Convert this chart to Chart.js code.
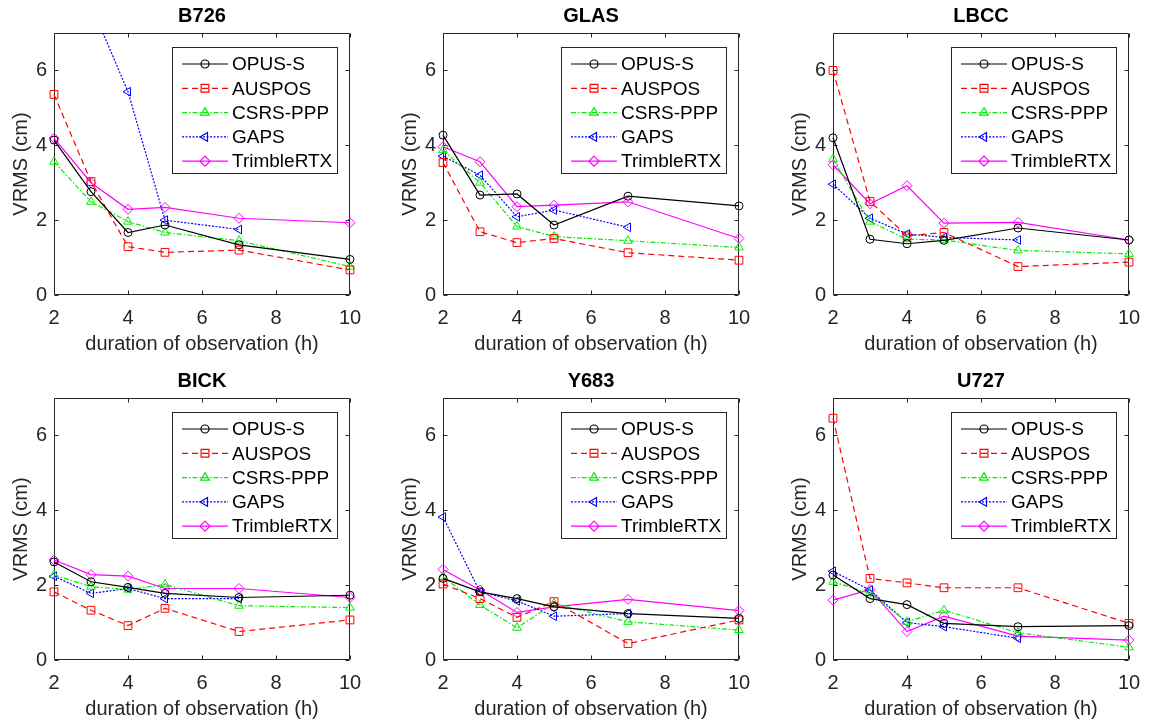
<!DOCTYPE html>
<html>
<head>
<meta charset="utf-8">
<script src="https://cdn.jsdelivr.net/npm/chart.js"></script>
<style>
  body { margin: 0; background: #fff; }
  #wrap { position: relative; width: 1150px; height: 725px; }
  canvas { position: absolute; }
</style>
</head>
<body>
<div id="wrap"></div>
<script>
const hours = [2, 3, 4, 5, 7, 10];
const services = ['OPUS-S', 'AUSPOS', 'CSRS-PPP', 'GAPS', 'TrimbleRTX'];
const stations = ['B726', 'GLAS', 'LBCC', 'BICK', 'Y683', 'U727'];
const xTicks = [2, 4, 6, 8, 10];
const yTicks = [0, 2, 4, 6];

// VRMS (cm): one row per service, one column per duration; null = not solved
const vrmsB726 = [
  [4.14, 2.76, 1.67, 1.87, 1.34, 0.95],
  [5.36, 3.03, 1.29, 1.14, 1.20, 0.67],
  [3.56, 2.49, 1.96, 1.67, 1.45, 0.76],
  [9.80, 7.75, 5.43, 2.00, 1.75, null],
  [4.19, 3.00, 2.29, 2.34, 2.05, 1.93]
];
const vrmsGLAS = [
  [4.27, 2.67, 2.70, 1.87, 2.64, 2.38],
  [3.54, 1.69, 1.40, 1.51, 1.13, 0.93],
  [3.87, 3.00, 1.83, 1.56, 1.45, 1.27],
  [3.71, 3.20, 2.09, 2.27, 1.81, null],
  [3.96, 3.56, 2.36, 2.40, 2.49, 1.51]
];
const vrmsLBCC = [
  [4.20, 1.49, 1.37, 1.46, 1.79, 1.47],
  [6.00, 2.50, 1.58, 1.67, 0.76, 0.88],
  [3.63, 1.96, 1.49, 1.47, 1.19, 1.10],
  [2.96, 2.05, 1.63, 1.54, 1.47, null],
  [3.48, 2.44, 2.92, 1.92, 1.94, 1.47]
];
const vrmsBICK = [
  [2.62, 2.09, 1.94, 1.78, 1.67, 1.73],
  [1.82, 1.33, 0.92, 1.38, 0.76, 1.07],
  [2.27, 1.96, 1.88, 2.02, 1.45, 1.40],
  [2.24, 1.78, 1.91, 1.64, 1.64, null],
  [2.67, 2.28, 2.24, 1.91, 1.91, 1.67]
];
const vrmsY683 = [
  [2.18, 1.82, 1.64, 1.42, 1.24, 1.11],
  [2.03, 1.64, 1.14, 1.56, 0.44, 1.07],
  [2.22, 1.47, 0.86, 1.51, 1.02, 0.80],
  [3.82, 1.82, 1.58, 1.17, 1.24, null],
  [2.42, 1.87, 1.27, 1.42, 1.62, 1.32]
];
const vrmsU727 = [
  [2.27, 1.64, 1.48, 0.98, 0.89, 0.92],
  [6.46, 2.18, 2.06, 1.93, 1.93, 0.98],
  [2.09, 1.78, 1.02, 1.33, 0.73, 0.34],
  [2.37, 1.87, 1.00, 0.89, 0.58, null],
  [1.60, 1.88, 0.76, 1.17, 0.64, 0.53]
];
const stationData = [vrmsB726, vrmsGLAS, vrmsLBCC, vrmsBICK, vrmsY683, vrmsU727];

// MATLAB-like line specs for each service
const styles = [
  { color: '#000000', marker: 'circle',   rot: 0,   r: 4,   dash: [] },
  { color: '#ff0000', marker: 'rect',     rot: 0,   r: 5.5, dash: [6, 4] },
  { color: '#00ee00', marker: 'triangle', rot: 0,   r: 5,   dash: [5, 2, 1.5, 2] },
  { color: '#0000ff', marker: 'triangle', rot: -90, r: 5,   dash: [2, 1.5] },
  { color: '#ff00ff', marker: 'rectRot',  rot: 0,   r: 5,   dash: [] }
];

const axisColor = '#262626';
Chart.defaults.font.family = "'Liberation Sans', Arial, Helvetica, sans-serif";
Chart.defaults.color = axisColor;

// box around the axes with inward tick marks on all four sides
const framePlugin = {
  id: 'frame',
  beforeDatasetsDraw(chart) {
    const { ctx, chartArea: a, scales: { x, y } } = chart;
    const L = a.left + 0.5, R = a.right - 0.5, T = a.top + 0.5, B = a.bottom - 0.5;
    ctx.save();
    ctx.strokeStyle = axisColor;
    ctx.lineWidth = 1;
    ctx.beginPath();
    ctx.rect(L, T, R - L, B - T);
    x.ticks.forEach(t => {
      const px = Math.round(x.getPixelForValue(t.value)) + 0.5;
      ctx.moveTo(px, B); ctx.lineTo(px, B - 4);
      ctx.moveTo(px, T); ctx.lineTo(px, T + 4);
    });
    y.ticks.forEach(t => {
      const py = Math.round(y.getPixelForValue(t.value)) + 0.5;
      ctx.moveTo(L, py); ctx.lineTo(L + 4, py);
      ctx.moveTo(R, py); ctx.lineTo(R - 4, py);
    });
    ctx.stroke();
    ctx.restore();
  }
};

// boxed legend in the upper right corner of the axes
const legendPlugin = {
  id: 'boxLegend',
  afterDatasetsDraw(chart) {
    const { ctx, chartArea: a } = chart;
    const bx = a.right - 178, by = a.top + 14, bw = 165, bh = 126;
    ctx.save();
    ctx.fillStyle = '#fff';
    ctx.fillRect(bx, by, bw, bh);
    ctx.strokeStyle = axisColor;
    ctx.lineWidth = 1;
    ctx.strokeRect(bx + 0.5, by + 0.5, bw, bh);
    ctx.font = "19px 'Liberation Sans', Arial, sans-serif";
    ctx.textBaseline = 'middle';
    chart.data.datasets.forEach((ds, i) => {
      const cy = by + 17 + i * 24.3;
      ctx.strokeStyle = ds.borderColor;
      ctx.lineWidth = ds.borderWidth;
      ctx.setLineDash(ds.borderDash);
      ctx.beginPath();
      ctx.moveTo(bx + 10, cy);
      ctx.lineTo(bx + 56, cy);
      ctx.stroke();
      ctx.setLineDash([]);
      ctx.fillStyle = 'rgba(0,0,0,0)';
      Chart.helpers.drawPoint(ctx, {
        pointStyle: ds.pointStyle, rotation: ds.pointRotation,
        radius: ds.pointRadius, borderWidth: 1
      }, bx + 33, cy);
      ctx.fillStyle = '#000';
      ctx.fillText(ds.label, bx + 60, cy + 1);
    });
    ctx.restore();
  }
};

const wrap = document.getElementById('wrap');
const plotLefts = [54, 443, 833];
const plotTops = [33, 398];

stations.forEach((name, k) => {
  const canvas = document.createElement('canvas');
  canvas.width = 380;
  canvas.height = 360;
  canvas.style.left = (plotLefts[k % 3] - 54) + 'px';
  canvas.style.top = (plotTops[Math.floor(k / 3)] - 33) + 'px';
  wrap.appendChild(canvas);

  const datasets = services.map((svc, i) => ({
    label: svc,
    data: hours.map((h, j) => ({ x: h, y: stationData[k][i][j] })),
    borderColor: styles[i].color,
    borderWidth: 1.2,
    borderDash: styles[i].dash,
    pointStyle: styles[i].marker,
    pointRotation: styles[i].rot,
    pointRadius: styles[i].r,
    pointBorderWidth: 1,
    pointBorderColor: styles[i].color,
    pointBackgroundColor: 'rgba(0,0,0,0)',
    tension: 0,
    spanGaps: false,
    clip: { left: 10, right: 10, top: 0, bottom: 10 }
  }));

  new Chart(canvas, {
    type: 'line',
    data: { datasets },
    options: {
      responsive: false,
      animation: false,
      layout: { padding: { left: 0, right: 30, top: 0, bottom: 0 } },
      plugins: {
        legend: { display: false },
        tooltip: { enabled: false },
        title: {
          display: true, text: name, fullSize: false, color: '#000',
          font: { size: 20, weight: 'bold' }, padding: { top: 4, bottom: 5 }
        }
      },
      scales: {
        x: {
          type: 'linear', min: 2, max: 10,
          afterBuildTicks: s => { s.ticks = xTicks.map(v => ({ value: v })); },
          afterFit: s => { s.height = 65; },
          ticks: { font: { size: 20 }, padding: 11, maxRotation: 0 },
          grid: { display: false, drawTicks: false },
          border: { display: false },
          title: {
            display: true, text: 'duration of observation (h)',
            font: { size: 20 }, padding: { top: 0, bottom: 4 }
          }
        },
        y: {
          type: 'linear', min: 0, max: 7,
          afterBuildTicks: s => { s.ticks = yTicks.map(v => ({ value: v })); },
          afterFit: s => { s.width = 54; },
          ticks: { font: { size: 20 }, padding: 7 },
          grid: { display: false, drawTicks: false },
          border: { display: false },
          title: {
            display: true, text: 'VRMS (cm)',
            font: { size: 20 }, padding: { top: 9, bottom: 0 }
          }
        }
      }
    },
    plugins: [framePlugin, legendPlugin]
  });
});
</script>
</body>
</html>
